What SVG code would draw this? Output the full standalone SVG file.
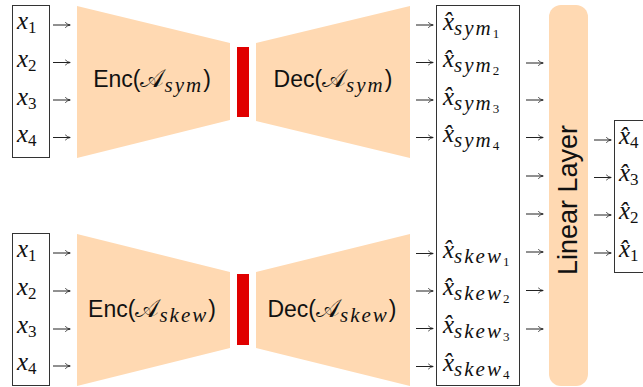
<svg xmlns="http://www.w3.org/2000/svg" width="643" height="387" viewBox="0 0 643 387">
<style>
.peach{fill:#FFD9B2;stroke:none}
.red{fill:#E00000}
.box{fill:none;stroke:#333;stroke-width:1}
.m{font-family:"Liberation Serif","Times New Roman",serif;font-style:italic;font-size:25px;fill:#111}
.d{font-style:normal;font-size:17px}
.s{font-family:"Liberation Serif","Times New Roman",serif;font-style:italic;font-size:21px;letter-spacing:2px}
.dd{font-style:normal;font-size:13px;letter-spacing:0}
.lbl{font-family:"Liberation Sans",Arial,sans-serif;font-size:23px;fill:#111}
.cal{font-size:25px}
.arr{stroke:#222;stroke-width:1;fill:none;marker-end:url(#ah)}
</style>
<defs>
<marker id="ah" viewBox="0 0 10 10" refX="9" refY="5" markerWidth="6" markerHeight="9" markerUnits="userSpaceOnUse" orient="auto">
<path d="M1,0.5 Q5,4.5 9.5,5 Q5,5.5 1,9.5" fill="none" stroke="#222" stroke-width="1.3"/>
</marker>
</defs>

<g id="input-sym">
<rect class="box" x="12.5" y="5.5" width="37" height="152"/>
<text class="m" x="17" y="29">x<tspan class="d" dy="4">1</tspan></text>
<text class="m" x="17" y="67">x<tspan class="d" dy="4">2</tspan></text>
<text class="m" x="17" y="104.5">x<tspan class="d" dy="4">3</tspan></text>
<text class="m" x="17" y="142">x<tspan class="d" dy="4">4</tspan></text>
</g>

<g id="input-skew">
<rect class="box" x="12.5" y="233.5" width="37" height="152"/>
<text class="m" x="17" y="257">x<tspan class="d" dy="4">1</tspan></text>
<text class="m" x="17" y="295">x<tspan class="d" dy="4">2</tspan></text>
<text class="m" x="17" y="332.5">x<tspan class="d" dy="4">3</tspan></text>
<text class="m" x="17" y="370">x<tspan class="d" dy="4">4</tspan></text>
</g>

<g id="enc-sym">
<polygon class="peach" points="77,6 230,43 230,120 77,158"/>
<text class="lbl" x="152" y="87" text-anchor="middle">Enc(<tspan class="cal">𝒜</tspan><tspan class="s" dy="5">sym</tspan><tspan dy="-5">)</tspan></text>
</g>
<g id="latent-sym"><rect class="red" x="237" y="47" width="12" height="70"/></g>
<g id="dec-sym">
<polygon class="peach" points="256,43 410,6 410,158 256,121"/>
<text class="lbl" x="333" y="87" text-anchor="middle">Dec(<tspan class="cal">𝒜</tspan><tspan class="s" dy="5">sym</tspan><tspan dy="-5">)</tspan></text>
</g>

<g id="enc-skew">
<polygon class="peach" points="77,234 230,272 230,348 77,386"/>
<text class="lbl" x="152" y="317" text-anchor="middle">Enc(<tspan class="cal">𝒜</tspan><tspan class="s" dy="5">skew</tspan><tspan dy="-5">)</tspan></text>
</g>
<g id="latent-skew"><rect class="red" x="237" y="274" width="12" height="71"/></g>
<g id="dec-skew">
<polygon class="peach" points="256,272 410,234 410,386 256,348"/>
<text class="lbl" x="332" y="317" text-anchor="middle">Dec(<tspan class="cal">𝒜</tspan><tspan class="s" dy="5">skew</tspan><tspan dy="-5">)</tspan></text>
</g>

<g id="recon">
<rect class="box" x="436.5" y="5.5" width="83" height="380"/>
<text class="m" x="443" y="29.5">x̂<tspan class="s" dy="5">sym</tspan><tspan class="dd" dy="3">1</tspan></text>
<text class="m" x="443" y="67">x̂<tspan class="s" dy="5">sym</tspan><tspan class="dd" dy="3">2</tspan></text>
<text class="m" x="443" y="104.5">x̂<tspan class="s" dy="5">sym</tspan><tspan class="dd" dy="3">3</tspan></text>
<text class="m" x="443" y="142">x̂<tspan class="s" dy="5">sym</tspan><tspan class="dd" dy="3">4</tspan></text>
<text class="m" x="443" y="257.5">x̂<tspan class="s" dy="5">skew</tspan><tspan class="dd" dy="3">1</tspan></text>
<text class="m" x="443" y="295">x̂<tspan class="s" dy="5">skew</tspan><tspan class="dd" dy="3">2</tspan></text>
<text class="m" x="443" y="332.5">x̂<tspan class="s" dy="5">skew</tspan><tspan class="dd" dy="3">3</tspan></text>
<text class="m" x="443" y="370.5">x̂<tspan class="s" dy="5">skew</tspan><tspan class="dd" dy="3">4</tspan></text>
</g>

<g id="linear">
<rect class="peach" x="549" y="5" width="39" height="381" rx="12"/>
<text class="lbl" style="font-size:27px" transform="translate(577,200) rotate(-90)" text-anchor="middle">Linear Layer</text>
</g>

<g id="output">
<rect class="box" x="614.5" y="120.5" width="60" height="152"/>
<text class="m" x="619" y="144">x̂<tspan class="d" dy="4">4</tspan></text>
<text class="m" x="619" y="181">x̂<tspan class="d" dy="4">3</tspan></text>
<text class="m" x="619" y="219">x̂<tspan class="d" dy="4">2</tspan></text>
<text class="m" x="619" y="257">x̂<tspan class="d" dy="4">1</tspan></text>
</g>

<g id="connectors">
<path class="arr" d="M53,25H70"/>
<path class="arr" d="M53,62.5H70"/>
<path class="arr" d="M53,100H70"/>
<path class="arr" d="M53,137.5H70"/>
<path class="arr" d="M53,253H70"/>
<path class="arr" d="M53,291H70"/>
<path class="arr" d="M53,329H70"/>
<path class="arr" d="M53,366H70"/>
<path class="arr" d="M416,25H433"/>
<path class="arr" d="M416,62.5H433"/>
<path class="arr" d="M416,100H433"/>
<path class="arr" d="M416,137.5H433"/>
<path class="arr" d="M416,253.5H433"/>
<path class="arr" d="M416,291H433"/>
<path class="arr" d="M416,328.5H433"/>
<path class="arr" d="M416,366.5H433"/>
<path class="arr" d="M526,63H543"/>
<path class="arr" d="M526,100H543"/>
<path class="arr" d="M526,137.5H543"/>
<path class="arr" d="M526,176H543"/>
<path class="arr" d="M526,214H543"/>
<path class="arr" d="M526,252H543"/>
<path class="arr" d="M526,290.5H543"/>
<path class="arr" d="M526,329H543"/>
<path class="arr" d="M594,140H611"/>
<path class="arr" d="M594,177.5H611"/>
<path class="arr" d="M594,215H611"/>
<path class="arr" d="M594,253H611"/>
</g>
</svg>
